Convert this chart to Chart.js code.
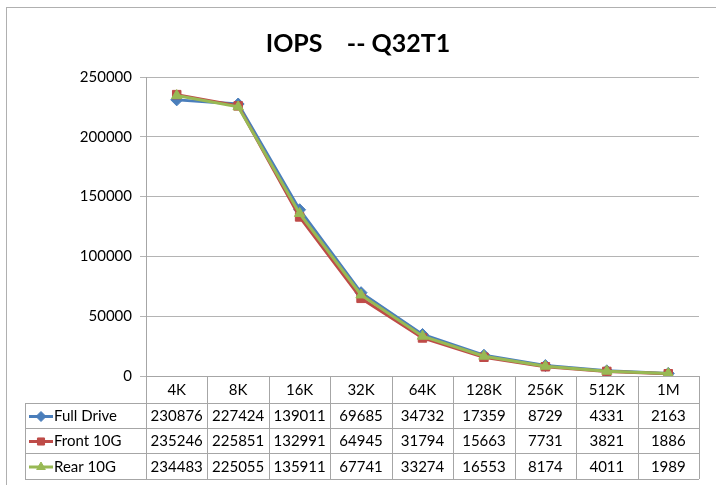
<!DOCTYPE html>
<html>
<head>
<meta charset="utf-8">
<script src="https://cdn.jsdelivr.net/npm/chart.js@4"></script>
<style>
  html, body { margin: 0; padding: 0; background: #fff; }
  #wrap { width: 716px; height: 485px; position: relative; }
</style>
</head>
<body>
<div id="wrap"><canvas id="myChart" width="716" height="485"></canvas></div>
<script>
// data
var blockSizes = ["4K", "8K", "16K", "32K", "64K", "128K", "256K", "512K", "1M"];
var fullDrive = [230876, 227424, 139011, 69685, 34732, 17359, 8729, 4331, 2163];
var front10G  = [235246, 225851, 132991, 64945, 31794, 15663, 7731, 3821, 1886];
var rear10G   = [234483, 225055, 135911, 67741, 33274, 16553, 8174, 4011, 1989];
var seriesNames = ["Full Drive", "Front 10G", "Rear 10G"];

var FONT = "Lato, 'Open Sans', sans-serif";
var blue = "#4a7ebb", red = "#be4b48", green = "#98b954";

// excel-like data table under the plot
var dataTable = {
  id: "dataTable",
  afterDraw: function(chart) {
    var ctx = chart.ctx;
    var area = chart.chartArea;
    var left = 25, colW = (area.right - area.left) / blockSizes.length;
    var top = area.bottom, rowsY = [top, 403, 428, 453, 479];
    ctx.save();
    ctx.strokeStyle = "#a6a6a6";
    ctx.lineWidth = 1;
    ctx.beginPath();
    // horizontal lines
    for (var r = 1; r < rowsY.length; r++) {
      ctx.moveTo(left, rowsY[r] + 0.5);
      ctx.lineTo(area.right, rowsY[r] + 0.5);
    }
    // vertical lines
    ctx.moveTo(left + 0.5, rowsY[1]);
    ctx.lineTo(left + 0.5, rowsY[4]);
    for (var c = 0; c <= blockSizes.length; c++) {
      var x = Math.round(area.left + c * colW) + 0.5;
      ctx.moveTo(x, top);
      ctx.lineTo(x, rowsY[4]);
    }
    ctx.stroke();

    ctx.fillStyle = "#000";
    ctx.font = "15px " + FONT;
    ctx.textAlign = "center";
    ctx.textBaseline = "middle";
    blockSizes.forEach(function(lbl, i) {
      ctx.fillText(lbl, area.left + (i + 0.5) * colW, (rowsY[0] + rowsY[1]) / 2 + 1);
    });
    var rows = [fullDrive, front10G, rear10G];
    var cols = [blue, red, green];
    var shapes = ["rectRot", "rect", "triangle"];
    rows.forEach(function(vals, r) {
      var cy = (rowsY[r + 1] + rowsY[r + 2]) / 2 + 1;
      ctx.fillStyle = "#000";
      ctx.textAlign = "center";
      vals.forEach(function(v, i) {
        ctx.fillText(String(v), area.left + (i + 0.5) * colW, cy);
      });
      // legend key
      ctx.strokeStyle = cols[r];
      ctx.lineWidth = 3;
      ctx.beginPath();
      ctx.moveTo(29, cy);
      ctx.lineTo(53, cy);
      ctx.stroke();
      ctx.fillStyle = cols[r];
      ctx.lineWidth = 1;
      Chart.helpers.drawPoint(ctx, {pointStyle: shapes[r], radius: 5, borderWidth: 1}, 41, cy);
      ctx.fillStyle = "#000";
      ctx.textAlign = "left";
      ctx.fillText(seriesNames[r], 54, cy);
    });
    // outer chart border
    ctx.strokeStyle = "#b0b0b0";
    ctx.lineWidth = 1;
    ctx.strokeRect(6.5, 7.5, 720, 500);
    ctx.restore();
  }
};

function ds(label, data, color, style, order) {
  return {
    label: label, data: data, borderColor: color, backgroundColor: color,
    borderWidth: 3, pointStyle: style, pointRadius: 6,
    pointBorderWidth: 1, pointBackgroundColor: color, pointBorderColor: color,
    tension: 0, order: order
  };
}

new Chart(document.getElementById("myChart"), {
  type: "line",
  data: {
    labels: blockSizes,
    datasets: [
      ds(seriesNames[0], fullDrive, blue, "rectRot", 2),
      ds(seriesNames[1], front10G, red, "rect", 1),
      ds(seriesNames[2], rear10G, green, "triangle", 0)
    ]
  },
  options: {
    responsive: false,
    animation: false,
    layout: { padding: { left: 17, right: 17, top: 0, bottom: 109 } },
    plugins: {
      legend: { display: false },
      tooltip: { enabled: false },
      title: {
        display: true,
        text: "IOPS    -- Q32T1",
        color: "#000",
        font: { family: FONT, size: 25, weight: "bold" },
        padding: { top: 29, bottom: 18 }
      }
    },
    scales: {
      x: {
        offset: true,
        grid: { display: false },
        border: { color: "#a6a6a6" },
        ticks: { display: false },
        afterFit: function(s) { s.height = 0; }
      },
      y: {
        min: 0, max: 250000,
        ticks: {
          stepSize: 50000, color: "#000", font: { family: FONT, size: 15 }, padding: 8,
          callback: function(v) { return String(v); }
        },
        grid: { color: "#b4b4b4", tickLength: 6 },
        border: { color: "#a6a6a6" },
        afterFit: function(s) { s.width = 129; }
      }
    }
  },
  plugins: [dataTable]
});
</script>
</body>
</html>
